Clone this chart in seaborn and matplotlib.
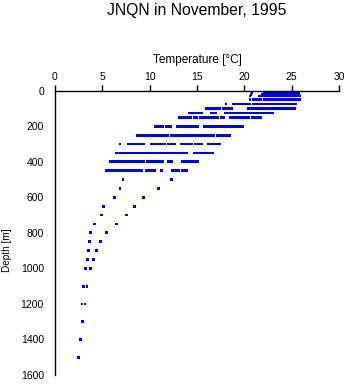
import matplotlib
matplotlib.use("Agg")
import matplotlib.pyplot as plt
import seaborn as sns
import pandas as pd

# ---- data: temperature values (°C) observed at each depth level (m) ----
t0 = [20.7, 22.2, 22.4, 22.6, 22.8, 23.0, 23.2, 23.4, 23.65, 23.85, 24.05, 24.25, 24.45, 24.65, 24.8, 25.0, 25.2, 25.4, 25.6, 25.8]
t10 = [20.8, 22.1, 22.3, 22.5, 22.7, 22.9, 23.1, 23.3, 23.6, 23.8, 24.0, 24.2, 24.4, 24.6, 24.8, 25.0, 25.2, 25.4, 25.6, 25.75]
t20 = [20.7, 21.9, 22.1, 22.3, 22.5, 22.7, 22.9, 23.1, 23.35, 23.6, 23.8, 24.0, 24.2, 24.4, 24.6, 24.8, 25.05, 25.25, 25.45, 25.7]
t30 = [20.6, 21.6, 21.8, 22.0, 22.2, 22.4, 22.6, 22.8, 23.0, 23.2, 23.4, 23.6, 23.8, 24.0, 24.2, 24.4, 24.6, 24.8, 25.0, 25.2, 25.4, 25.6, 25.8]
t50 = [20.6, 20.95, 21.15, 21.35, 21.55, 21.75, 22.1, 22.3, 22.5, 22.7, 22.9, 23.1, 23.3, 23.6, 23.8, 24.0, 24.2, 24.4, 24.6, 24.8, 25.0, 25.2, 25.4, 25.6, 25.8]
t75 = [18.06, 18.83, 19.0, 19.2, 19.4, 19.54, 19.82, 20.0, 20.2, 20.4, 20.59, 20.94, 21.1, 21.3, 21.5, 21.7, 21.9, 22.1, 22.3, 22.5, 22.63,
       22.99, 23.2, 23.4, 23.6, 23.8, 24.0, 24.29, 24.47, 24.65, 24.82, 25.1, 25.3, 25.45]
t100 = [15.95, 16.15, 16.35, 16.55, 16.72, 17.07, 17.25, 17.42, 17.77, 17.95, 18.13, 18.3, 18.48, 18.66, 20.41, 20.6, 20.77,
        21.01, 21.2, 21.4, 21.6, 21.8, 22.0, 22.2, 22.35, 22.52, 22.7, 22.9, 23.1, 23.3, 23.5, 23.7, 23.9, 24.1, 24.29,
        24.57, 24.75, 24.95, 25.15, 25.34]
t125 = [14.15, 14.35, 14.6, 14.78, 14.95, 15.15, 15.3, 15.49, 16.55, 16.75, 17.0, 17.95, 18.15, 18.35, 18.55, 18.75, 18.95,
        19.11, 19.25, 19.45, 19.65, 19.85, 20.05, 20.25, 20.45, 20.65, 20.85, 21.05, 21.25, 21.45, 21.65, 21.85, 22.05,
        22.25, 22.45, 22.65, 22.85, 22.99]
t150 = [13.14, 13.35, 13.55, 13.75, 13.91, 14.08, 14.33, 14.71, 14.96, 15.31, 15.6, 15.73, 16.02, 16.12, 16.3, 16.44, 16.65,
        16.9, 17.14, 17.6, 17.77, 18.55, 18.75, 18.95, 19.15, 19.35, 19.55, 19.75, 19.95, 20.15, 20.41, 20.88, 21.1, 21.3,
        21.5, 21.72]
t200 = [10.56, 10.8, 11.01, 11.2, 11.37, 11.72, 11.95, 12.25, 12.91, 13.1, 13.3, 13.55, 13.62, 13.85, 14.08, 14.26, 14.54,
        14.68, 14.85, 15.03, 15.73, 15.95, 16.19, 16.26, 16.45, 16.65, 16.85, 17.05, 17.25, 17.45, 17.65, 17.85, 18.05,
        18.25, 18.45, 18.65, 18.85, 19.05, 19.2, 19.36, 19.54, 19.82]
t250 = [8.73, 8.9, 9.1, 9.3, 9.5, 9.7, 9.9, 10.1, 10.25, 10.38, 10.56, 10.75, 10.95, 11.15, 11.37, 11.51, 11.7, 11.9, 12.25,
        12.45, 12.65, 12.91, 13.2, 13.4, 13.65, 13.97, 14.15, 14.35, 14.55, 14.75, 14.95, 15.15, 15.35, 15.55, 15.75, 15.95,
        16.15, 16.35, 16.55, 16.72, 17.14, 17.35, 17.55, 17.75, 17.95, 18.15, 18.35, 18.48]
t300 = [6.86, 7.74, 7.95, 8.15, 8.35, 8.55, 8.75, 8.95, 9.15, 9.32, 10.14, 10.35, 10.55, 10.75, 10.95, 11.15, 11.35, 11.6,
        11.95, 12.3, 12.6, 13.38, 13.6, 13.8, 14.0, 14.2, 14.44, 14.78, 15.0, 15.25, 15.49, 16.19, 16.4, 16.6, 16.8, 17.0,
        17.2, 17.42]
t350 = [6.44, 6.65, 6.85, 7.05, 7.3, 7.5, 7.68, 7.9, 8.1, 8.3, 8.45, 8.63, 8.8, 9.0, 9.2, 9.4, 9.6, 9.85, 9.96, 10.15, 10.35,
        10.55, 10.74, 10.84, 11.05, 11.27, 11.37, 11.55, 11.75, 11.95, 12.14, 12.32, 12.5, 12.67, 12.85, 13.05, 13.25, 13.45,
        13.65, 13.9, 14.68, 14.9, 15.1, 15.3, 15.5, 15.7, 15.9, 16.08, 16.37, 16.61]
t400 = [5.81, 6.0, 6.2, 6.4, 6.6, 6.8, 7.0, 7.2, 7.4, 7.6, 7.8, 8.0, 8.2, 8.4, 8.6, 8.8, 9.0, 9.15, 9.32, 9.75, 9.95, 10.15,
        10.38, 10.74, 10.95, 11.15, 11.37, 11.96, 12.15, 12.32, 13.48, 13.7, 13.91, 14.08, 14.26, 14.44, 14.68, 14.85, 15.03]
t450 = [5.46, 5.65, 5.85, 5.99, 6.23, 6.45, 6.65, 6.85, 7.05, 7.25, 7.4, 7.57, 7.85, 8.05, 8.25, 8.45, 8.65, 8.85, 9.0, 9.16,
        9.61, 9.8, 10.0, 10.2, 10.4, 10.56, 11.22, 12.43, 12.6, 12.8, 13.02, 13.48, 13.7, 13.91]
t500 = [7.18, 12.29]
t550 = [6.86, 10.95]
t600 = [6.26, 9.33]
t650 = [5.14, 8.38]
t700 = [4.93, 7.57]
t750 = [4.15, 6.47]
t800 = [3.73, 5.46]
t850 = [3.63, 4.79]
t900 = [3.52, 4.36]
t950 = [3.45, 4.05]
t1000 = [3.24, 3.73]
t1100 = [2.99, 3.38]
t1200 = [2.85, 3.17]
t1300 = [2.89]
t1400 = [2.68]
t1500 = [2.47]

depths = [0, 10, 20, 30, 50, 75, 100, 125, 150, 200, 250, 300, 350, 400, 450, 500, 550, 600, 650, 700,
          750, 800, 850, 900, 950, 1000, 1100, 1200, 1300, 1400, 1500]
temps_by_depth = [t0, t10, t20, t30, t50, t75, t100, t125, t150, t200, t250, t300, t350, t400, t450, t500, t550,
                  t600, t650, t700, t750, t800, t850, t900, t950, t1000, t1100, t1200, t1300, t1400, t1500]

x_ticks = [0, 5, 10, 15, 20, 25, 30]
y_ticks = [0, 200, 400, 600, 800, 1000, 1200, 1400, 1600]

title_text = "JNQN in November, 1995"
x_label = "Temperature [°C]"
y_label = "Depth [m]"

rows = []
for d, ts in zip(depths, temps_by_depth):
    for t in ts:
        rows.append((t, d))
df = pd.DataFrame(rows, columns=["temperature", "depth"])

# ---- styling ----
sns.set_style("white")
plt.rcParams["font.family"] = ["Liberation Sans", "DejaVu Sans"]

fig = plt.figure(figsize=(3.48, 3.84), dpi=100)
ax = fig.add_axes([55 / 348, 9 / 384, 284 / 348, 284.3 / 384])

sns.scatterplot(data=df, x="temperature", y="depth", ax=ax, marker="s", s=4,
                color="#0000ff", edgecolor="none", linewidth=0)

ax.set_xlim(0, 30)
ax.set_ylim(1600, 0)
ax.set_xticks(x_ticks)
ax.set_yticks(y_ticks)
ax.xaxis.tick_top()
ax.xaxis.set_label_position("top")

for side in ["right", "bottom"]:
    ax.spines[side].set_visible(False)
for side in ["left", "top"]:
    ax.spines[side].set_color("black")
    ax.spines[side].set_linewidth(1.0)

ax.tick_params(axis="both", direction="out", length=4, width=1, color="black",
               labelsize=7.5, labelcolor="black")
ax.tick_params(axis="x", pad=2)
ax.tick_params(axis="y", pad=4)

ax.set_xlabel(x_label, fontsize=8.5, color="black")
ax.xaxis.set_label_coords(0.5, 1.108)
ax.xaxis.label.set_va("center")
ax.set_ylabel(y_label, fontsize=7.2, color="black")
ax.yaxis.set_label_coords(-0.169, 0.44)
ax.yaxis.label.set_va("center")

fig.text(197 / 348, 1 - 10 / 384, title_text, ha="center", va="center", fontsize=11.3, color="black")

fig.savefig("out.png", dpi=100)
